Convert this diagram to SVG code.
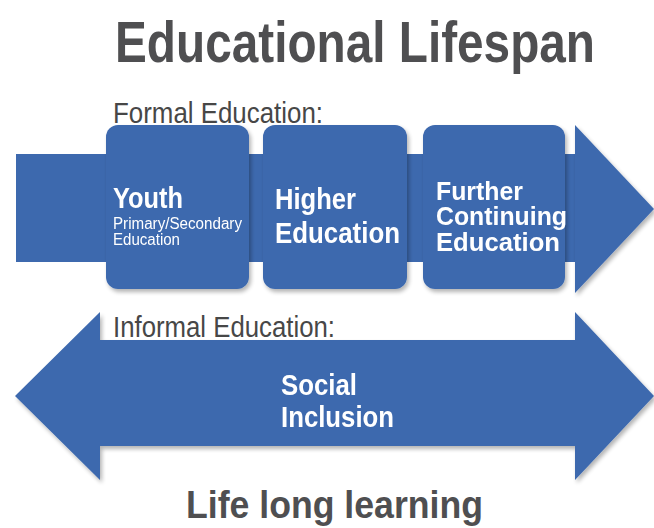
<svg xmlns="http://www.w3.org/2000/svg" width="654" height="528" viewBox="0 0 654 528">
  <defs>
    <filter id="sh" x="-10%" y="-10%" width="120%" height="130%">
      <feGaussianBlur in="SourceAlpha" stdDeviation="2"/>
      <feOffset dx="2" dy="3" result="o"/>
      <feComponentTransfer><feFuncA type="linear" slope="0.3"/></feComponentTransfer>
      <feMerge><feMergeNode/><feMergeNode in="SourceGraphic"/></feMerge>
    </filter>
  </defs>
  <style>
    .blue { fill: #3d69ae; }
    .hd { font-family: "Liberation Sans", Arial, sans-serif; font-weight: bold; fill: #4f4f51; }
    .lbl { font-family: "Liberation Sans", Arial, sans-serif; fill: #474747; font-size: 29px; }
    .w { font-family: "Liberation Sans", Arial, sans-serif; fill: #ffffff; }
    .b { font-weight: bold; }
  </style>
  <rect width="654" height="528" fill="#ffffff"/>

  <text class="hd" transform="translate(115,62) scale(0.823,1)" x="0" y="0" font-size="58">Educational Lifespan</text>
  <text class="lbl" x="113" y="123" textLength="210" lengthAdjust="spacingAndGlyphs">Formal Education:</text>

  <g id="formal-arrow">
    <rect class="blue" x="16" y="154" width="562" height="108"/>
    <polygon class="blue" points="575,125 654,209 575,293" filter="url(#sh)"/>
  </g>
  <g id="youth" filter="url(#sh)">
    <rect class="blue" x="106" y="125" width="143" height="164" rx="12"/>
    <text class="w b" x="113" y="208" font-size="29" textLength="70" lengthAdjust="spacingAndGlyphs">Youth</text>
    <text class="w" x="113" y="229" font-size="16" textLength="129" lengthAdjust="spacingAndGlyphs">Primary/Secondary</text>
    <text class="w" x="113" y="245" font-size="16" textLength="67" lengthAdjust="spacingAndGlyphs">Education</text>
  </g>
  <g id="higher" filter="url(#sh)">
    <rect class="blue" x="263" y="125" width="144" height="164" rx="12"/>
    <text class="w b" x="275" y="209" font-size="29" textLength="81" lengthAdjust="spacingAndGlyphs">Higher</text>
    <text class="w b" x="275" y="243" font-size="29" textLength="125" lengthAdjust="spacingAndGlyphs">Education</text>
  </g>
  <g id="further" filter="url(#sh)">
    <rect class="blue" x="423" y="125" width="142" height="164" rx="12"/>
    <text class="w b" x="436" y="200" font-size="26" textLength="87" lengthAdjust="spacingAndGlyphs">Further</text>
    <text class="w b" x="436" y="225" font-size="26" textLength="131" lengthAdjust="spacingAndGlyphs">Continuing</text>
    <text class="w b" x="436" y="251" font-size="26" textLength="124" lengthAdjust="spacingAndGlyphs">Education</text>
  </g>

  <g id="informal" filter="url(#sh)">
    <polygon class="blue" points="15,396 100,312 100,340 575,340 575,312 654,396 575,480 575,446 100,446 100,480"/>
    <text class="w b" x="281" y="395" font-size="29" textLength="76" lengthAdjust="spacingAndGlyphs">Social</text>
    <text class="w b" x="281" y="427" font-size="29" textLength="113" lengthAdjust="spacingAndGlyphs">Inclusion</text>
  </g>
  <text class="lbl" x="113" y="337" textLength="222" lengthAdjust="spacingAndGlyphs">Informal Education:</text>

  <text class="hd" x="186" y="518" font-size="39" textLength="297" lengthAdjust="spacingAndGlyphs">Life long learning</text>
</svg>
